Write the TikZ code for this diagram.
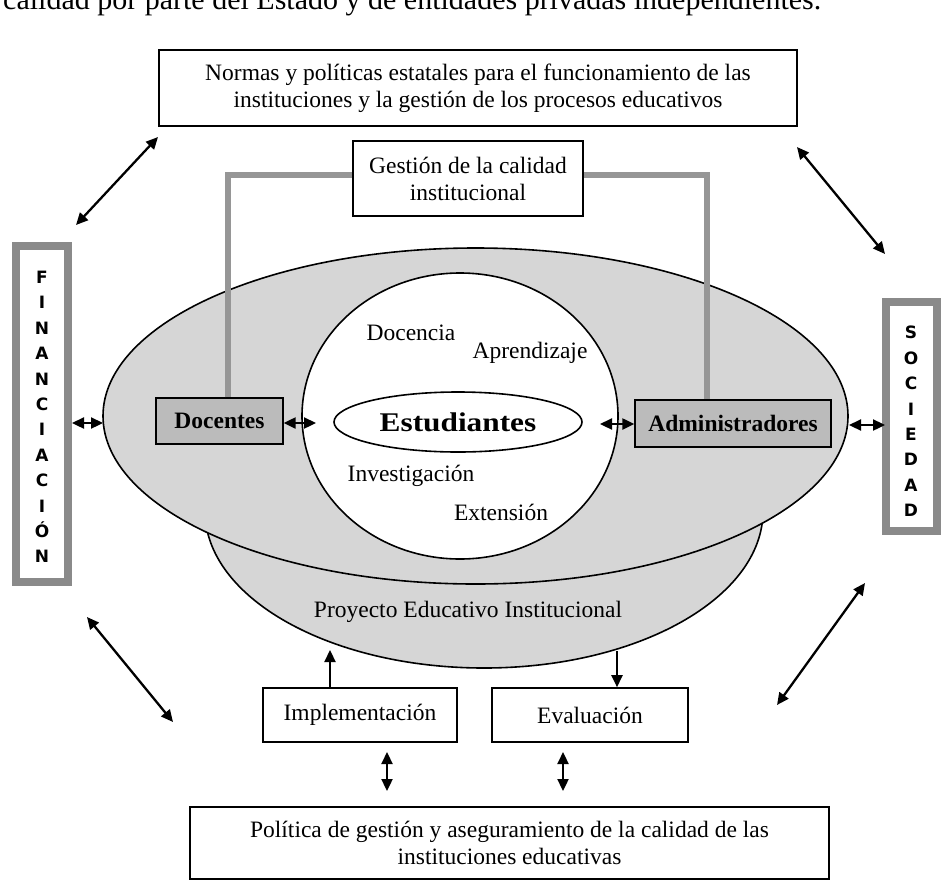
\documentclass[tikz,border=0pt]{standalone}
\usepackage{fontspec}
\setmainfont{Liberation Serif}
\newfontfamily\heavysans{DejaVu Sans}
\usetikzlibrary{shapes.geometric,arrows.meta}
\definecolor{ellfill}{HTML}{D6D6D6}
\definecolor{boxfill}{HTML}{BBBBBB}
\definecolor{sideline}{HTML}{8A8A8A}
\definecolor{linkgray}{HTML}{969696}
\tikzset{
  txt/.style={font=\fontsize{23.5}{27}\selectfont, align=center, inner sep=0pt},
  plainbox/.style={draw=black, line width=1.6pt, fill=white, inner sep=0pt, txt},
  graybox/.style={draw=black, line width=1.4pt, fill=boxfill, inner sep=0pt, txt, font=\fontsize{23.5}{27}\selectfont\bfseries},
  sidebox/.style={draw=sideline, line width=8pt, fill=white, inner sep=0pt},
  letters/.style={font=\heavysans\bfseries\fontsize{17}{25.4}\selectfont, align=center, inner sep=0pt},
  bigell/.style={ellipse, draw=black, line width=1.6pt, fill=ellfill, inner sep=0pt},
  whiteell/.style={ellipse, draw=black, line width=1.6pt, fill=white, inner sep=0pt},
  link/.style={draw=linkgray, line width=6.5pt},
  dbl/.style={line width=2.3pt, {Triangle[length=12pt,width=11pt]}-{Triangle[length=12pt,width=11pt]}},
  one/.style={line width=2.3pt, -{Triangle[length=12pt,width=11pt]}}
}
\begin{document}
\begin{tikzpicture}[x=1pt,y=-1pt]
\useasboundingbox (0,0) rectangle (947,881);
\clip (0,0) rectangle (947,881);
\fill[white] (0,0) rectangle (947,881);

% cut-off sentence at the top
\node[anchor=base west, inner sep=0pt, font=\fontsize{30}{34}\selectfont] (toptext) at (3,9)
  {calidad por parte del Estado y de entidades privadas independientes.};

% ellipses
\node[bigell, minimum width=558, minimum height=314] (pei) at (484,511) {};
\node[bigell, minimum width=745, minimum height=336] (outer) at (475.5,416) {};
\node[whiteell, minimum width=316, minimum height=286] (inner) at (460,416) {};
\node[whiteell, minimum width=248, minimum height=60, font=\fontsize{27}{30}\selectfont\bfseries] (est) at (458,422)
  {\scalebox{1.16}[1]{Estudiantes}};

% gray links
\coordinate (ld) at (228,175);
\coordinate (lr) at (707,175);

% boxes
\node[graybox, minimum width=127, minimum height=46] (doc) at (219.5,421) {Docentes};
\node[graybox, minimum width=196, minimum height=47] (adm) at (733,423.5) {Administradores};
\draw[link] (doc.north -| ld) -- (ld) -- (lr) -- (adm.north -| lr);

\node[plainbox, minimum width=638, minimum height=76] (normas) at (478,88)
  {Normas y políticas estatales para el funcionamiento de las\\instituciones y la gestión de los procesos educativos};
\node[plainbox, minimum width=230, minimum height=75] (gestion) at (468,178.5)
  {Gestión de la calidad\\institucional};
\node[plainbox, minimum width=194, minimum height=54] (impl) at (360,715) {Implementación};
\node[plainbox, minimum width=196, minimum height=54] (eval) at (590,715) {Evaluación};
\node[plainbox, minimum width=639, minimum height=72] (politica) at (509.5,843)
  {Política de gestión y aseguramiento de la calidad de las\\instituciones educativas};

\node[sidebox, minimum width=52, minimum height=336] (fin) at (42,414) {};
\node[letters] (fintext) at (42,417) {F\\I\\N\\A\\N\\C\\I\\A\\C\\I\\Ó\\N};
\node[sidebox, minimum width=51, minimum height=229] (soc) at (911,416.5) {};
\node[letters] (soctext) at (911,421.5) {S\\O\\C\\I\\E\\D\\A\\D};

% labels inside the ellipses
\node[txt] (docencia) at (411,333) {Docencia};
\node[txt] (aprendizaje) at (530,353) {Aprendizaje};
\node[txt] (investigacion) at (411,476) {Investigación};
\node[txt] (extension) at (501,512) {Extensión};
\node[txt] (proyecto) at (468,612) {Proyecto Educativo Institucional};

% arrows
\coordinate (a1s) at (158,137); \coordinate (a1e) at (76,225);
\draw[dbl] (a1s) -- (a1e);
\coordinate (a2s) at (797,147); \coordinate (a2e) at (885,254);
\draw[dbl] (a2s) -- (a2e);
\coordinate (a3e) at (103,423);
\draw[dbl] (fin.east |- a3e) -- (a3e);
\coordinate (a4e) at (316,423);
\draw[dbl] (doc.east |- a4e) -- (a4e);
\coordinate (a5s) at (600,424);
\draw[dbl] (a5s) -- (adm.west |- a5s);
\coordinate (a6s) at (849,425); \coordinate (a6e) at (885,425);
\draw[dbl] (a6s) -- (a6e);
\coordinate (a7s) at (87,617); \coordinate (a7e) at (173,722);
\draw[dbl] (a7s) -- (a7e);
\coordinate (a8s) at (865,583); \coordinate (a8e) at (777,705);
\draw[dbl] (a8s) -- (a8e);
\coordinate (a9e) at (330,650);
\draw[one] (impl.north -| a9e) -- (a9e);
\coordinate (a10s) at (617,651);
\draw[one] (a10s) -- (eval.north -| a10s);
\coordinate (a11s) at (387,752); \coordinate (a11e) at (387,791);
\draw[dbl] (a11s) -- (a11e);
\coordinate (a12s) at (563,752); \coordinate (a12e) at (563,791);
\draw[dbl] (a12s) -- (a12e);
\end{tikzpicture}
\end{document}
